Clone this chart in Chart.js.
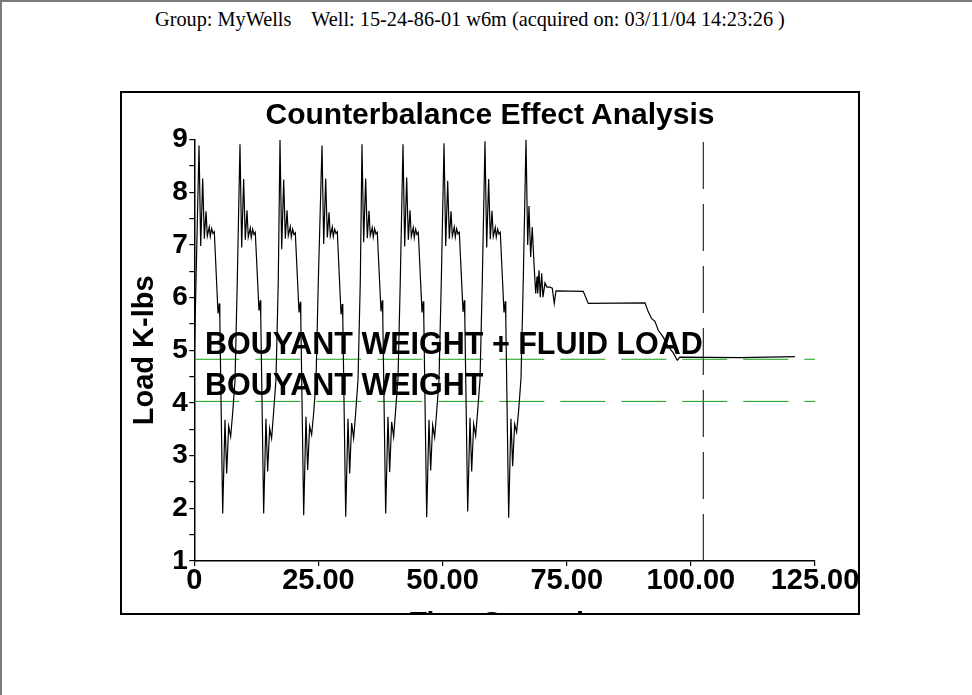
<!DOCTYPE html>
<html>
<head>
<meta charset="utf-8">
<script src="https://cdn.jsdelivr.net/npm/chart.js@4.4.1/dist/chart.umd.min.js"></script>
<style>
  html, body { margin: 0; padding: 0; background: #fff; overflow: hidden; }
  .page {
    position: relative; width: 972px; height: 695px; box-sizing: border-box;
    border-top: 2px solid #7a7a7a; border-left: 2px solid #7a7a7a; overflow: hidden;
  }
  .header {
    position: absolute; left: 153px; top: 7px; white-space: pre;
    font: 20.3px "Liberation Serif", "Times New Roman", serif; line-height: 20px; color: #000;
  }
  .box {
    position: absolute; left: 118px; top: 89px; width: 740px; height: 524px;
    box-sizing: border-box; border: 2px solid #000; overflow: hidden;
  }
  .box canvas { position: absolute; left: -122px; top: -93px; }
  .title {
    position: absolute; left: 0; right: 0; top: 6px; text-align: center;
    font: bold 30px "Liberation Sans", Arial, sans-serif; line-height: 30px; color: #000;
  }
</style>
</head>
<body>
<div class="page">
  <div class="header">Group: MyWells    Well: 15-24-86-01 w6m (acquired on: 03/11/04 14:23:26 )</div>
  <div class="box">
    <canvas id="chart" width="972" height="695"></canvas>
    <div class="title">Counterbalance Effect Analysis</div>
  </div>
</div>
<script>
// dynamometer trace (seconds, K-lbs)
const timeSec = [
  0,
  0.95, 1.29, 1.69, 2.02, 2.36, 2.62, 3.02, 3.22, 3.50, 3.76, 4.03, 4.78, 5.04, 5.14, 5.72, 6.18, 6.52, 6.92, 7.32, 7.72, 8.20, 8.66,
  9.20, 9.54, 9.94, 10.27, 10.61, 10.87, 11.27, 11.47, 11.75, 12.01, 12.28, 13.03, 13.29, 13.39, 13.97, 14.43, 14.77, 15.17, 15.57, 15.97, 16.45, 16.91,
  17.26, 17.60, 18.00, 18.33, 18.67, 18.93, 19.33, 19.53, 19.81, 20.07, 20.34, 21.09, 21.35, 21.45, 22.03, 22.49, 22.83, 23.23, 23.63, 24.03, 24.51, 24.97,
  25.72, 26.06, 26.46, 26.79, 27.13, 27.39, 27.79, 27.99, 28.27, 28.53, 28.80, 29.55, 29.81, 29.91, 30.49, 30.95, 31.29, 31.69, 32.09, 32.49, 32.97, 33.43,
  33.77, 34.11, 34.51, 34.84, 35.18, 35.44, 35.84, 36.04, 36.32, 36.58, 36.85, 37.60, 37.86, 37.96, 38.54, 39.00, 39.34, 39.74, 40.14, 40.54, 41.02, 41.48,
  42.03, 42.37, 42.77, 43.10, 43.44, 43.70, 44.10, 44.30, 44.58, 44.84, 45.11, 45.86, 46.12, 46.22, 46.80, 47.26, 47.60, 48.00, 48.40, 48.80, 49.28, 49.74,
  50.29, 50.63, 51.03, 51.36, 51.70, 51.96, 52.36, 52.56, 52.84, 53.10, 53.37, 54.12, 54.38, 54.48, 55.06, 55.52, 55.86, 56.26, 56.66, 57.06, 57.54, 58.00,
  58.54, 58.88, 59.28, 59.61, 59.95, 60.21, 60.61, 60.81, 61.09, 61.35, 61.62, 62.37, 62.63, 62.73, 63.31, 63.77, 64.11, 64.51, 64.91, 65.31, 65.79, 66.25,
  66.80, 67.14, 67.40, 67.74, 68.06, 68.41, 68.75, 69.02, 69.16, 69.42, 69.67, 69.96, 70.22, 70.62, 71.02, 71.63, 72.09, 72.49, 72.84,
  78.33, 79.34, 90.76, 91.42, 92.11, 92.77, 93.44, 94.44, 95.45, 96.46, 97.26, 97.80, 110.0, 120.96
];
const loadKlbs = [
  4.85,
  8.89, 6.98, 8.26, 7.12, 7.64, 7.17, 7.34, 7.16, 7.31, 7.22, 7.25, 5.70, 5.89, 5.60, 1.90, 3.68, 2.66, 3.56, 3.36, 3.80, 4.43, 6.33,
  8.91, 6.95, 8.25, 7.10, 7.66, 7.15, 7.32, 7.14, 7.30, 7.20, 7.24, 5.75, 5.95, 5.62, 1.90, 3.70, 2.70, 3.52, 3.33, 3.82, 4.45, 6.30,
  8.99, 6.92, 8.24, 7.12, 7.66, 7.18, 7.35, 7.15, 7.30, 7.20, 7.23, 5.72, 5.92, 5.60, 1.87, 3.74, 2.73, 3.56, 3.40, 3.80, 4.42, 6.30,
  8.89, 7.02, 8.26, 7.14, 7.62, 7.17, 7.34, 7.16, 7.30, 7.22, 7.25, 5.68, 5.88, 5.58, 1.84, 3.70, 2.66, 3.62, 3.33, 3.80, 4.44, 6.32,
  8.91, 7.05, 8.26, 7.13, 7.65, 7.18, 7.33, 7.15, 7.31, 7.21, 7.24, 5.74, 5.95, 5.62, 1.90, 3.74, 2.69, 3.64, 3.36, 3.86, 4.46, 6.31,
  8.91, 6.97, 8.28, 7.10, 7.66, 7.16, 7.33, 7.14, 7.30, 7.20, 7.24, 5.72, 5.93, 5.60, 1.83, 3.68, 2.72, 3.58, 3.35, 3.82, 4.43, 6.30,
  8.93, 6.98, 8.22, 7.12, 7.64, 7.17, 7.34, 7.15, 7.31, 7.21, 7.24, 5.73, 5.95, 5.61, 1.94, 3.72, 2.70, 3.60, 3.38, 3.84, 4.45, 6.32,
  8.97, 6.95, 8.25, 7.11, 7.65, 7.16, 7.33, 7.15, 7.30, 7.21, 7.24, 5.72, 5.93, 5.60, 1.82, 3.70, 2.80, 3.60, 3.45, 3.85, 4.46, 6.33,
  9.00, 7.00, 7.74, 6.77, 7.34, 6.65, 6.08, 6.40, 6.08, 6.52, 6.01, 6.46, 6.01, 6.28, 6.20, 6.20, 6.18, 5.89, 6.13,
  6.12, 5.89, 5.90, 5.73, 5.60, 5.55, 5.38, 5.25, 5.07, 4.95, 4.81, 4.87, 4.86, 4.88
];

// reference loads
const buoyantWeight = 4.03;
const buoyantPlusFluid = 4.83;
const refLabels = ['BOUYANT WEIGHT + FLUID LOAD', 'BOUYANT WEIGHT'];
const refLabelTime = 2.15;
const refLabelLoad = [4.93, 4.15];

const markerTime = 102.5;

const xMin = 0, xMax = 125, xStep = 25;
const yMin = 1, yMax = 9;

const FONT = '"Liberation Sans", Arial, sans-serif';
const GREEN = 'rgb(20, 160, 20)';

function refLine(value) {
    return {
        data: [{ x: xMin, y: value }, { x: xMax, y: value }],
        borderColor: GREEN,
        borderWidth: 1,
        borderDash: [45, 16],
        pointRadius: 0
    };
}

const refLabelPlugin = {
    id: 'refLabels',
    afterDatasetsDraw(chart) {
        const { ctx, scales } = chart;
        ctx.save();
        ctx.font = 'bold 30.5px ' + FONT;
        ctx.fillStyle = '#000';
        ctx.textBaseline = 'alphabetic';
        ctx.textAlign = 'left';
        refLabels.forEach((text, i) => {
            ctx.fillText(text, scales.x.getPixelForValue(refLabelTime), scales.y.getPixelForValue(refLabelLoad[i]));
        });
        ctx.restore();
    }
};

new Chart(document.getElementById('chart'), {
    type: 'line',
    data: {
        datasets: [
            {
                data: timeSec.map((t, i) => ({ x: t, y: loadKlbs[i] })),
                borderColor: '#000',
                borderWidth: 1.2,
                pointRadius: 0,
                tension: 0
            },
            refLine(buoyantPlusFluid),
            refLine(buoyantWeight),
            {
                data: [{ x: markerTime, y: yMin }, { x: markerTime, y: yMax }],
                borderColor: '#000',
                borderWidth: 1,
                borderDash: [47, 15],
                pointRadius: 0
            }
        ]
    },
    options: {
        responsive: false,
        animation: false,
        events: [],
        layout: { padding: { left: 125, right: 157, top: 139.6, bottom: 40 } },
        plugins: { legend: { display: false }, tooltip: { enabled: false } },
        scales: {
            x: {
                type: 'linear',
                min: xMin,
                max: xMax,
                afterFit: scale => { scale.height = 94; },
                border: { color: '#000', width: 1.5 },
                grid: { drawOnChartArea: false, color: '#000', tickLength: 5, lineWidth: 1.2 },
                ticks: {
                    stepSize: xStep,
                    color: '#000',
                    padding: 0,
                    maxRotation: 0,
                    autoSkip: false,
                    font: { family: FONT, size: 29, weight: 'bold', lineHeight: 1 },
                    callback: v => (v === 0 ? '0' : v.toFixed(2))
                },
                title: {
                    display: true,
                    text: 'Time Seconds',
                    color: '#000',
                    font: { family: FONT, size: 28, weight: 'bold', lineHeight: 1.2 },
                    padding: { top: 0, bottom: 15 }
                }
            },
            y: {
                min: yMin,
                max: yMax,
                afterFit: scale => { scale.width = 69.3; },
                border: { color: '#000', width: 1.5 },
                grid: { drawOnChartArea: false, color: '#000', tickLength: 5, lineWidth: 1.2 },
                ticks: {
                    stepSize: 0.5,
                    color: '#000',
                    padding: 1.5,
                    autoSkip: false,
                    font: { family: FONT, size: 28, weight: 'bold', lineHeight: 1 },
                    callback: v => (Number.isInteger(v) ? String(v) : '')
                },
                title: {
                    display: true,
                    text: 'Load K-lbs',
                    color: '#000',
                    font: { family: FONT, size: 29, weight: 'bold', lineHeight: 1.2 },
                    padding: { top: 3, bottom: 0 }
                }
            }
        }
    },
    plugins: [refLabelPlugin]
});
</script>
</body>
</html>
